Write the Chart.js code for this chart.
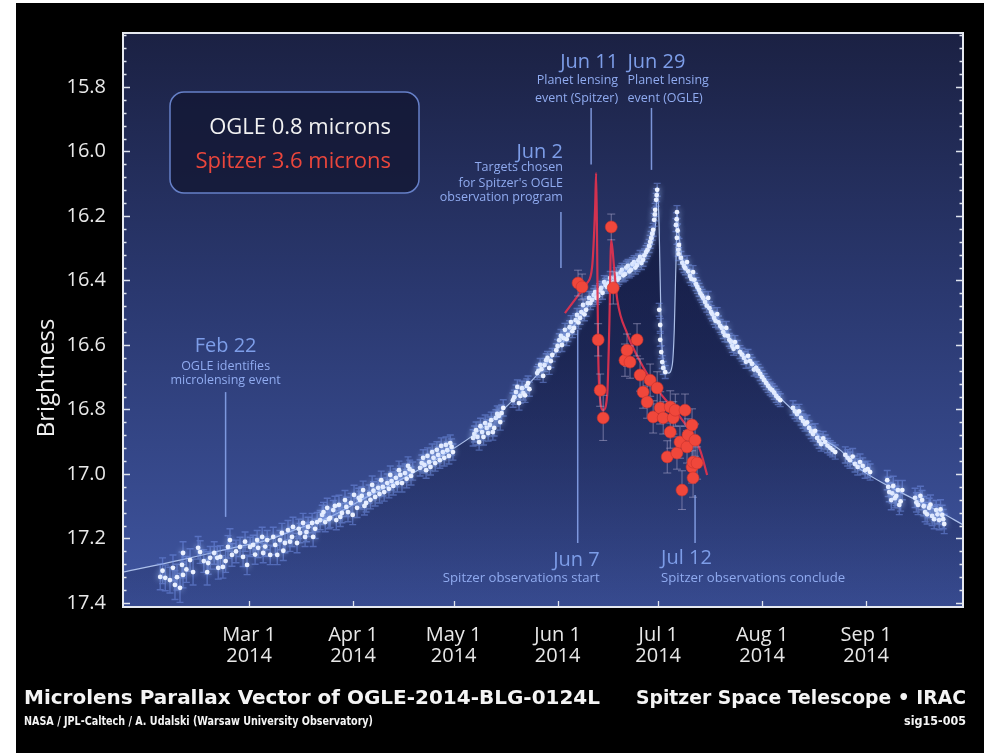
<!DOCTYPE html>
<html><head><meta charset="utf-8">
<script src="https://cdn.jsdelivr.net/npm/chart.js@4.4.1/dist/chart.umd.min.js"></script>
<style>html,body{margin:0;padding:0;background:#fff;overflow:hidden}canvas{display:block}</style>
</head><body>
<canvas id="c" width="984" height="753"></canvas>
<script>
// ---------- DATA (day-of-year 2014, Jan 1 = 0; magnitude) ----------
const xTickDays = [59, 90, 120, 151, 181, 212, 243];
const xTickLabels = ['Mar 1', 'Apr 1', 'May 1', 'Jun 1', 'Jul 1', 'Aug 1', 'Sep 1'];
const xTickYear = '2014';
const yTicks = [15.8, 16.0, 16.2, 16.4, 16.6, 16.8, 17.0, 17.2, 17.4];

// OGLE model light curve
const ogleModelDay = [21.4,38.4,54.2,64.4,74.2,83.2,94.2,104.0,116.0,127.9,139.8,147.9,153.8,157.7,165.8,171.7,177.7,179.5,180.4,180.7,181.3,181.9,182.8,184.0,185.2,185.8,186.4,186.6,187.2,188.4,190.5,195.6,200.4,205.4,210.5,215.3,223.3,229.3,235.3,240.3,250.2,265.1,272.0];
const ogleModelMag = [17.304,17.267,17.229,17.205,17.167,17.133,17.071,17.019,16.947,16.864,16.749,16.656,16.575,16.513,16.408,16.367,16.315,16.274,16.197,16.110,16.243,16.553,16.662,16.687,16.662,16.553,16.305,16.188,16.259,16.343,16.389,16.482,16.553,16.616,16.668,16.740,16.823,16.885,16.926,16.978,17.040,17.118,17.158];

// OGLE observations [day, mag, error]
const ogleObs = [
// February - March
[32.5,17.319,0.04],[33.2,17.300,0.04],[34.0,17.322,0.04],[35.4,17.329,0.04],[36.3,17.291,0.04],[36.9,17.344,0.045],[37.5,17.320,0.04],[38.4,17.353,0.045],[39.0,17.282,0.04],[39.3,17.313,0.04],[39.3,17.245,0.035],[40.3,17.296,0.04],[41.4,17.267,0.035],[42.3,17.304,0.04],[43.8,17.229,0.035],[44.4,17.242,0.035],[45.5,17.270,0.035],[46.5,17.304,0.04],[46.8,17.276,0.035],[47.4,17.260,0.035],[48.6,17.245,0.035],[49.5,17.260,0.035],[49.8,17.291,0.035],[50.4,17.257,0.035],[51.2,17.288,0.035],[52.0,17.270,0.035],[52.7,17.226,0.035],[53.3,17.205,0.035],[53.9,17.251,0.035],[55.1,17.240,0.035],[56.3,17.226,0.03],[57.2,17.257,0.03],[57.8,17.210,0.03],[58.4,17.282,0.03],[59.3,17.226,0.03],[60.2,17.220,0.03],[60.8,17.250,0.03],[61.4,17.205,0.03],[61.7,17.229,0.03],[62.9,17.195,0.03],[63.2,17.245,0.03],[63.8,17.225,0.03],[64.4,17.205,0.03],[65.3,17.251,0.03],[66.2,17.195,0.03],[66.8,17.220,0.03],[67.4,17.251,0.03],[68.2,17.205,0.03],[68.8,17.183,0.03],[69.2,17.238,0.03],[69.7,17.214,0.03],[70.6,17.174,0.03],[71.2,17.210,0.03],[71.8,17.195,0.03],[72.1,17.164,0.03],[73.3,17.214,0.03],[73.8,17.170,0.03],[74.2,17.183,0.03],[75.1,17.152,0.03],[75.7,17.195,0.03],[76.1,17.180,0.03],[76.6,17.164,0.03],[77.8,17.152,0.03],[78.1,17.195,0.03],[78.7,17.170,0.03],[79.3,17.149,0.03],[80.2,17.143,0.03],
// March - April
[80.8,17.127,0.03],[81.2,17.118,0.03],[81.7,17.149,0.03],[82.3,17.105,0.03],[82.8,17.140,0.03],[83.2,17.136,0.03],[84.1,17.112,0.03],[84.6,17.099,0.03],[85.0,17.143,0.03],[85.8,17.096,0.03],[86.2,17.133,0.03],[86.7,17.121,0.03],[87.6,17.081,0.03],[88.0,17.102,0.03],[88.5,17.118,0.03],[89.4,17.090,0.03],[89.9,17.127,0.03],[90.3,17.065,0.03],[91.2,17.105,0.03],[91.7,17.074,0.03],
[92.1,17.081,0.028],[92.6,17.068,0.028],[93.0,17.050,0.028],[93.4,17.099,0.028],[93.9,17.090,0.028],[94.8,17.062,0.028],[95.2,17.080,0.028],[95.7,17.034,0.028],[96.1,17.052,0.028],[96.6,17.071,0.028],[97.5,17.043,0.028],[97.9,17.062,0.028],[98.4,17.019,0.028],[98.9,17.040,0.028],[99.3,17.056,0.028],[100.2,17.028,0.028],[100.7,17.046,0.028],[101.1,17.003,0.028],[101.5,17.022,0.028],[102.0,17.037,0.028],[102.8,17.012,0.028],[103.2,17.028,0.028],[103.7,16.988,0.028],[104.1,17.003,0.028],[104.6,17.028,0.028],[105.5,16.997,0.028],[106.0,17.015,0.028],[106.4,16.975,0.028],[106.9,16.985,0.028],[107.3,17.006,0.028],[107.8,16.991,0.028],
// May
[110.0,16.981,0.025],[110.5,16.966,0.025],[110.9,16.950,0.025],[111.3,16.972,0.025],[111.8,16.988,0.025],[112.2,16.944,0.025],[112.7,16.963,0.025],[113.1,16.978,0.025],[113.6,16.932,0.025],[114.0,16.950,0.025],[114.5,16.966,0.025],[115.0,16.925,0.025],[115.4,16.941,0.025],[115.9,16.957,0.025],[116.3,16.913,0.025],[116.8,16.932,0.025],[117.2,16.950,0.025],[117.7,16.910,0.025],[118.1,16.926,0.025],[118.6,16.944,0.025],[119.0,16.904,0.025],[119.4,16.916,0.025],[119.8,16.932,0.025],
[125.8,16.888,0.025],[126.2,16.876,0.025],[126.7,16.864,0.025],[127.1,16.885,0.025],[127.6,16.901,0.025],[128.0,16.852,0.025],[128.5,16.870,0.025],[128.9,16.885,0.025],[129.4,16.842,0.025],[129.9,16.857,0.025],[130.3,16.873,0.025],[130.8,16.848,0.025],[131.2,16.833,0.025],[131.7,16.870,0.025],[132.1,16.857,0.025],[132.6,16.826,0.025],[133.0,16.814,0.025],[133.5,16.820,0.025],[133.9,16.839,0.025],[134.3,16.811,0.025],[134.8,16.795,0.025],
[137.7,16.771,0.022],[138.1,16.762,0.022],[138.6,16.746,0.022],[139.0,16.730,0.022],[139.5,16.780,0.022],[139.9,16.758,0.022],[140.4,16.734,0.022],[140.8,16.749,0.022],[141.3,16.756,0.022],[141.8,16.727,0.022],[142.2,16.718,0.022],[142.6,16.737,0.022],
[144.9,16.687,0.02],[145.3,16.680,0.02],[145.8,16.662,0.02],[146.2,16.675,0.02],[146.7,16.696,0.02],[147.1,16.662,0.02],[147.6,16.647,0.02],[148.0,16.640,0.02],[148.5,16.671,0.02],[149.0,16.650,0.02],[149.4,16.631,0.02],
// June
[150.6,16.616,0.02],[151.0,16.603,0.02],[151.5,16.585,0.02],[152.0,16.572,0.02],[152.3,16.600,0.02],[152.8,16.579,0.02],[153.2,16.553,0.02],[153.7,16.582,0.02],[154.1,16.569,0.02],[154.6,16.545,0.02],[155.0,16.529,0.02],[155.4,16.557,0.02],[155.9,16.547,0.02],[156.4,16.523,0.02],[156.8,16.507,0.02],[157.2,16.530,0.02],[157.7,16.516,0.02],[158.1,16.498,0.02],[158.6,16.476,0.02],[159.0,16.505,0.02],[159.5,16.491,0.02],[160.0,16.470,0.02],[160.4,16.454,0.02],[160.8,16.470,0.02],
[161.3,16.460,0.02],[161.8,16.445,0.02],[162.2,16.436,0.02],[162.6,16.454,0.02],[163.1,16.448,0.02],[163.5,16.430,0.02],[164.0,16.423,0.02],[164.4,16.438,0.02],[164.9,16.405,0.02],[165.3,16.414,0.02],[165.8,16.420,0.02],[166.2,16.408,0.02],[166.7,16.392,0.02],[167.1,16.416,0.02],[167.6,16.405,0.02],[168.0,16.391,0.02],[168.5,16.380,0.02],[168.9,16.398,0.02],[169.3,16.392,0.02],[169.8,16.375,0.02],[170.2,16.367,0.02],[170.6,16.384,0.02],[171.1,16.380,0.02],[171.5,16.360,0.02],[172.0,16.355,0.02],[172.4,16.372,0.02],[172.9,16.367,0.02],[173.3,16.349,0.02],[173.8,16.343,0.02],[174.2,16.360,0.02],[174.7,16.352,0.02],[175.1,16.338,0.02],[175.6,16.327,0.02],[176.0,16.346,0.02],[176.5,16.336,0.02],[176.9,16.322,0.02],[177.4,16.312,0.02],[177.8,16.305,0.02],[178.3,16.293,0.02],[178.6,16.280,0.02],[178.9,16.268,0.02],[179.2,16.255,0.02],[179.5,16.243,0.02],[179.8,16.212,0.02],[180.0,16.195,0.02],[180.1,16.181,0.02],[180.4,16.150,0.02],[180.55,16.135,0.02],[180.7,16.119,0.02],
[181.3,16.491,0.02],[181.6,16.538,0.02],[181.6,16.584,0.02],[181.9,16.622,0.02],[182.2,16.653,0.02],[182.5,16.671,0.02],[183.1,16.684,0.02],
// July
[186.3,16.228,0.02],[186.5,16.210,0.02],[186.6,16.188,0.02],[186.6,16.268,0.02],[186.8,16.245,0.02],[187.0,16.305,0.02],[187.1,16.318,0.02],[187.2,16.290,0.02],
[187.8,16.330,0.02],[188.2,16.345,0.02],[188.7,16.355,0.02],[189.1,16.362,0.02],[189.6,16.343,0.02],[190.0,16.372,0.02],[190.5,16.386,0.02],[190.9,16.395,0.02],[191.4,16.374,0.02],[191.8,16.398,0.02],[192.3,16.411,0.02],[192.7,16.420,0.02],[193.2,16.429,0.02],[193.6,16.440,0.02],[194.1,16.448,0.02],[194.5,16.455,0.02],[195.0,16.467,0.02],[195.5,16.478,0.02],[195.9,16.454,0.02],[196.3,16.486,0.02],[196.8,16.498,0.02],[197.2,16.505,0.02],[197.7,16.516,0.02],[198.1,16.525,0.02],[198.6,16.504,0.02],[199.0,16.530,0.02],[199.5,16.541,0.02],[200.0,16.547,0.02],[200.4,16.560,0.02],[200.9,16.570,0.02],[201.3,16.547,0.02],[201.8,16.572,0.02],[202.2,16.584,0.02],[202.7,16.590,0.02],[203.1,16.603,0.02],[203.5,16.612,0.02],[203.9,16.591,0.02],[204.6,16.606,0.02],[205.4,16.622,0.02],[206.0,16.630,0.02],[206.6,16.640,0.02],[207.2,16.652,0.02],[207.8,16.634,0.02],[208.4,16.650,0.02],[209.0,16.659,0.02],[209.6,16.676,0.02],[210.2,16.671,0.02],[210.8,16.680,0.02],[211.4,16.690,0.02],[212.0,16.700,0.02],[212.6,16.709,0.02],[213.2,16.718,0.02],[213.8,16.727,0.02],[214.4,16.735,0.02],[215.0,16.740,0.02],[215.6,16.748,0.02],[216.2,16.758,0.02],[216.8,16.765,0.02],[217.4,16.771,0.02],
// August - September
[221.2,16.795,0.022],[221.8,16.806,0.022],[222.4,16.814,0.022],[223.0,16.806,0.022],[223.6,16.826,0.022],[224.2,16.836,0.022],[224.8,16.845,0.022],[225.4,16.840,0.022],[226.0,16.857,0.022],[226.6,16.868,0.022],[227.2,16.876,0.022],[227.8,16.866,0.022],[228.4,16.888,0.022],[229.0,16.898,0.022],[229.6,16.907,0.022],[230.2,16.890,0.022],[230.8,16.901,0.022],[231.5,16.912,0.022],[232.3,16.919,0.022],[233.0,16.925,0.022],[233.8,16.932,0.022],
[236.8,16.941,0.025],[237.5,16.950,0.025],[238.2,16.957,0.025],[239.0,16.946,0.025],[239.7,16.969,0.025],[240.5,16.978,0.025],[241.2,16.963,0.025],[242.0,16.975,0.025],[242.7,16.988,0.025],[243.5,16.985,0.025],[244.2,16.994,0.025],
[249.3,17.019,0.03],[249.6,17.040,0.03],[249.9,17.056,0.03],[250.5,17.081,0.03],[250.8,17.060,0.03],[251.1,17.037,0.03],[251.6,17.075,0.03],[252.0,17.068,0.03],[252.5,17.050,0.03],[252.9,17.096,0.03],[253.3,17.085,0.03],[253.8,17.050,0.03],
[257.6,17.074,0.03],[258.0,17.088,0.03],[258.5,17.096,0.03],[259.2,17.068,0.03],[259.7,17.081,0.03],[260.2,17.100,0.03],[260.6,17.118,0.03],[261.2,17.125,0.03],[261.8,17.105,0.03],[262.2,17.095,0.03],[262.7,17.130,0.03],[263.3,17.140,0.03],[263.9,17.112,0.03],[264.3,17.125,0.03],[264.8,17.143,0.03],[265.2,17.110,0.03],[265.7,17.127,0.03],[266.0,17.140,0.03],[266.3,17.155,0.03]
];

// Spitzer model light curve
const spitzerModelDay = [153.2,156.8,159.8,161.3,162.2,162.5,162.8,163.1,163.7,164.6,165.8,166.4,167.0,167.9,168.8,171.7,176.5,181.6,187.5,193.5,195.6];
const spitzerModelMag = [16.501,16.451,16.408,16.358,16.172,16.067,16.305,16.616,16.771,16.802,16.755,16.553,16.274,16.367,16.460,16.563,16.668,16.749,16.823,16.926,17.003];

// Spitzer observations [day, mag, error]
const spitzerObs = [
[157.1,16.408,0.04],[158.3,16.420,0.04],[163.1,16.584,0.05],[163.7,16.740,0.05],[164.6,16.826,0.07],[167.0,16.234,0.04],[167.6,16.423,0.05],
[171.1,16.647,0.05],[171.7,16.616,0.05],[172.6,16.653,0.05],[174.7,16.584,0.05],[175.6,16.693,0.05],[176.5,16.746,0.05],[177.7,16.777,0.05],[178.6,16.709,0.05],[179.5,16.823,0.05],[180.7,16.733,0.05],[181.6,16.795,0.05],[182.5,16.826,0.05],[183.7,16.947,0.05],[184.6,16.792,0.05],[184.6,16.870,0.05],[185.5,16.826,0.05],[186.1,16.802,0.05],[186.6,16.935,0.05],[187.5,16.901,0.05],[188.1,17.050,0.06],[189.0,16.802,0.05],[189.6,16.916,0.05],[189.9,16.879,0.05],[191.1,16.848,0.05],[191.1,16.978,0.05],[191.4,16.963,0.05],[191.4,17.012,0.06],[192.0,16.895,0.05],[192.6,16.966,0.05]
];

// Event annotations
const eventDays = [52, 152, 161, 179, 157, 192];
const eventTitles = ['Feb 22', 'Jun 2', 'Jun 11', 'Jun 29', 'Jun 7', 'Jul 12'];
const eventNotes = [
  ['OGLE identifies', 'microlensing event'],
  ['Targets chosen', "for Spitzer's OGLE", 'observation program'],
  ['Planet lensing', 'event (Spitzer)'],
  ['Planet lensing', 'event (OGLE)'],
  ['Spitzer observations start'],
  ['Spitzer observations conclude']
];
const legendLabels = ['OGLE 0.8 microns', 'Spitzer 3.6 microns'];

// ---------- LAYOUT (positions of annotation text, in axis units) ----------
const eventLayout = [
  {line:[16.746,17.133], align:'center', dx:0,   titleMag:16.603, noteMag:[16.665,16.709], noteSize:12.5},
  {line:[16.188,16.361], align:'right',  dx:2,   titleMag:16.002, noteMag:[16.051,16.098,16.144], noteSize:12.5},
  {line:[15.865,16.040], align:'right',  dx:27,  titleMag:15.722, noteMag:[15.781,15.834], noteSize:12.5},
  {line:[15.865,16.057], align:'left',   dx:-24, titleMag:15.722, noteMag:[15.781,15.834], noteSize:12.5},
  {line:[16.553,17.214], align:'right',  dx:22,  titleMag:17.267, noteMag:[17.322], noteSize:13.2},
  {line:[17.065,17.214], align:'left',   dx:-34, titleMag:17.260, noteMag:[17.322], noteSize:13.2}
];

const FONT = '"Open Sans", "Noto Sans", sans-serif';
const CAPFONT = '"DejaVu Sans", sans-serif';

const deco = {
  id: 'deco',
  beforeDraw(chart) {
    const {ctx, chartArea: a} = chart;
    ctx.save();
    ctx.fillStyle = '#ffffff'; ctx.fillRect(0, 0, chart.width, chart.height);
    ctx.fillStyle = '#000000'; ctx.fillRect(16, 3, chart.width - 16, chart.height - 3);
    const g = ctx.createLinearGradient(0, a.top, 0, a.bottom);
    g.addColorStop(0, '#1b2143');
    g.addColorStop(0.45, '#2a386f');
    g.addColorStop(1, '#3f55a0');
    ctx.fillStyle = g;
    ctx.fillRect(a.left, a.top, a.right - a.left, a.bottom - a.top);
    ctx.restore();
  },
  beforeDatasetDraw(chart, args) {
    const {ctx, chartArea: a} = chart;
    const xs = chart.scales.x, ys = chart.scales.y;
    const drawBars = (obs, color, lw, cap) => {
      ctx.save();
      ctx.beginPath(); ctx.rect(a.left, a.top, a.right - a.left, a.bottom - a.top); ctx.clip();
      ctx.strokeStyle = color; ctx.lineWidth = lw;
      ctx.beginPath();
      obs.forEach(([d, m, e]) => {
        const x = xs.getPixelForValue(d);
        const y1 = ys.getPixelForValue(m - e), y2 = ys.getPixelForValue(m + e);
        ctx.moveTo(x, y1); ctx.lineTo(x, y2);
        ctx.moveTo(x - cap, y1); ctx.lineTo(x + cap, y1);
        ctx.moveTo(x - cap, y2); ctx.lineTo(x + cap, y2);
      });
      ctx.stroke();
      ctx.restore();
    };
    if (args.index === 1) {
      drawBars(ogleObs, 'rgba(115,145,235,0.5)', 1.4, 3.5);
      ctx.save();
      ctx.shadowColor = 'rgba(170,200,255,0.95)';
      ctx.shadowBlur = 6;
    }
    if (args.index === 3) {
      drawBars(spitzerObs, 'rgba(175,170,205,0.55)', 1, 4);
    }
  },
  afterDatasetDraw(chart, args) {
    if (args.index === 1) chart.ctx.restore();
  },
  afterDraw(chart) {
    const {ctx, chartArea: a} = chart;
    const xs = chart.scales.x, ys = chart.scales.y;
    ctx.save();
    // axis ticks (inward)
    ctx.strokeStyle = '#dfe4ee'; ctx.lineWidth = 1.3;
    ctx.beginPath();
    const k0 = Math.ceil(ys.min / 0.04 - 1e-6), k1 = Math.floor(ys.max / 0.04 + 1e-6);
    for (let k = k0; k <= k1; k++) {
      const v = k * 0.04;
      const major = yTicks.some(t => Math.abs(t - v) < 1e-6);
      const len = major ? 7 : 3.5;
      const y = Math.round(ys.getPixelForValue(v)) + 0.5;
      ctx.moveTo(a.left, y); ctx.lineTo(a.left + len, y);
      ctx.moveTo(a.right, y); ctx.lineTo(a.right - len, y);
    }
    xTickDays.forEach(d => {
      const x = Math.round(xs.getPixelForValue(d)) + 0.5;
      ctx.moveTo(x, a.bottom); ctx.lineTo(x, a.bottom - 6);
    });
    ctx.stroke();
    // frame
    ctx.strokeStyle = '#e6e9f0'; ctx.lineWidth = 2;
    ctx.strokeRect(a.left, a.top, a.right - a.left, a.bottom - a.top);

    // event annotations
    eventDays.forEach((d, i) => {
      const L = eventLayout[i];
      const x = xs.getPixelForValue(d);
      ctx.strokeStyle = 'rgba(140,168,240,0.85)'; ctx.lineWidth = 1.5;
      ctx.beginPath();
      ctx.moveTo(x, ys.getPixelForValue(L.line[0]));
      ctx.lineTo(x, ys.getPixelForValue(L.line[1]));
      ctx.stroke();
      ctx.textAlign = L.align; ctx.textBaseline = 'middle';
      const tx = x + L.dx;
      ctx.fillStyle = '#7d9de8';
      ctx.font = '20px ' + FONT;
      ctx.fillText(eventTitles[i], tx, ys.getPixelForValue(L.titleMag));
      ctx.fillStyle = '#90abf0';
      ctx.font = L.noteSize + 'px ' + FONT;
      eventNotes[i].forEach((t, j) => ctx.fillText(t, tx, ys.getPixelForValue(L.noteMag[j])));
    });

    // legend box
    const bx = a.left + 47, by = a.top + 59, bw = 249, bh = 101;
    ctx.beginPath();
    ctx.roundRect(bx, by, bw, bh, 14);
    ctx.fillStyle = 'rgba(20,25,54,0.85)';
    ctx.fill();
    ctx.strokeStyle = '#6680c8'; ctx.lineWidth = 1.5;
    ctx.stroke();
    ctx.textAlign = 'right'; ctx.textBaseline = 'middle';
    ctx.font = '22px ' + FONT;
    ctx.fillStyle = '#f2f2f2';
    ctx.fillText(legendLabels[0], bx + 221, by + 36);
    ctx.fillStyle = '#ea463c';
    ctx.fillText(legendLabels[1], bx + 221, by + 70);

    // y axis title
    ctx.save();
    ctx.translate(47, 378);
    ctx.rotate(-Math.PI / 2);
    ctx.textAlign = 'center'; ctx.textBaseline = 'middle';
    ctx.fillStyle = '#f0f0f0';
    ctx.font = '24px ' + FONT;
    ctx.fillText('Brightness', 0, 0);
    ctx.restore();

    // captions
    ctx.fillStyle = '#f4f4f4';
    ctx.textBaseline = 'alphabetic';
    ctx.textAlign = 'left';
    ctx.font = 'bold 20px ' + CAPFONT;
    ctx.fillText('Microlens Parallax Vector of OGLE-2014-BLG-0124L', 24, 704, 576);
    ctx.font = 'bold 13px ' + CAPFONT;
    ctx.fillText('NASA / JPL-Caltech / A. Udalski (Warsaw University Observatory)', 24, 725, 349);
    ctx.textAlign = 'right';
    ctx.font = 'bold 20px ' + CAPFONT;
    ctx.fillText('Spitzer Space Telescope \u2022 IRAC', 966, 704, 330);
    ctx.font = 'bold 13px ' + CAPFONT;
    ctx.fillText('sig15-005', 966, 725, 62);
    ctx.restore();
  }
};

const toXY = (days, mags) => days.map((d, i) => ({x: d, y: mags[i]}));

const underFill = (context) => {
  const {ctx, chartArea: a} = context.chart;
  if (!a) return 'rgba(8,14,48,0.4)';
  const g = ctx.createLinearGradient(0, a.top, 0, a.bottom);
  g.addColorStop(0, 'rgba(8,12,44,0.62)');
  g.addColorStop(0.55, 'rgba(8,12,44,0.48)');
  g.addColorStop(1, 'rgba(8,12,44,0.14)');
  return g;
};

new Chart(document.getElementById('c'), {
  type: 'line',
  data: {
    datasets: [
      {
        label: 'OGLE model',
        data: toXY(ogleModelDay, ogleModelMag),
        borderColor: 'rgba(185,205,245,0.9)', borderWidth: 1.2,
        pointRadius: 0, cubicInterpolationMode: 'monotone',
        fill: 'start', backgroundColor: underFill,
        order: 5
      },
      {
        label: legendLabels[0],
        data: ogleObs.map(([d, m]) => ({x: d, y: m})),
        showLine: false, pointRadius: 2.4, pointHoverRadius: 2.4,
        pointBackgroundColor: '#eef3ff', pointBorderWidth: 0,
        order: 4
      },
      {
        label: 'Spitzer model',
        data: toXY(spitzerModelDay, spitzerModelMag),
        borderColor: 'rgba(226,50,78,0.92)', borderWidth: 2.2,
        pointRadius: 0, cubicInterpolationMode: 'monotone', fill: false,
        order: 2
      },
      {
        label: legendLabels[1],
        data: spitzerObs.map(([d, m]) => ({x: d, y: m})),
        showLine: false, pointRadius: 6, pointHoverRadius: 6,
        pointBackgroundColor: '#f0473b', pointBorderColor: '#c9332b', pointBorderWidth: 0.6,
        order: 1
      }
    ]
  },
  options: {
    responsive: false,
    animation: false,
    devicePixelRatio: 1,
    layout: {padding: {left: 0, top: 33, right: 21, bottom: 0}},
    plugins: {legend: {display: false}, tooltip: {enabled: false}, title: {display: false}},
    scales: {
      x: {
        type: 'linear', min: 21.4, max: 271.9,
        afterBuildTicks: s => { s.ticks = xTickDays.map(v => ({value: v})); },
        afterFit: s => { s.height = 146; },
        grid: {display: false, drawTicks: false},
        border: {display: false},
        ticks: {
          autoSkip: false, maxRotation: 0, padding: 18,
          color: '#e8e8e8',
          font: {family: FONT, size: 20, lineHeight: 1.05},
          callback: v => [xTickLabels[xTickDays.indexOf(v)], xTickYear]
        }
      },
      y: {
        type: 'linear', reverse: true, min: 15.6326, max: 17.4124,
        afterBuildTicks: s => { s.ticks = yTicks.map(v => ({value: v})); },
        afterFit: s => { s.width = 123; },
        grid: {display: false, drawTicks: false},
        border: {display: false},
        ticks: {
          padding: 17, color: '#e8e8e8',
          font: {family: FONT, size: 20},
          callback: v => v.toFixed(1)
        }
      }
    }
  },
  plugins: [deco]
});
</script>
</body></html>
